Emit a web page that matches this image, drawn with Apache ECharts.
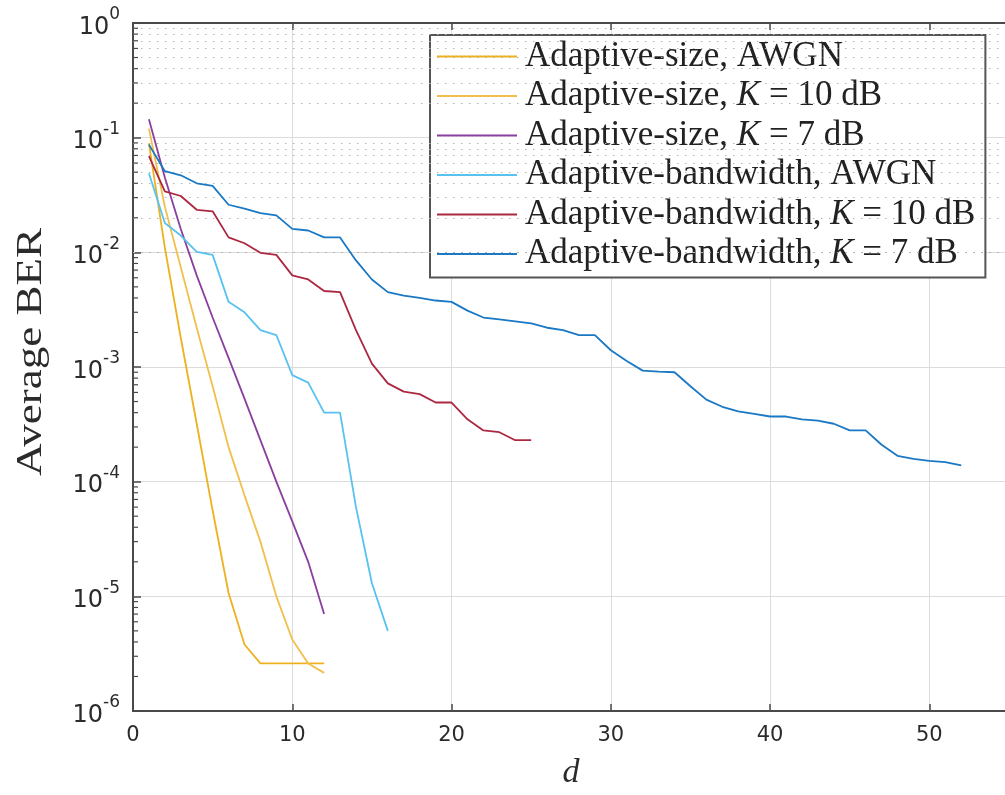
<!DOCTYPE html>
<html>
<head>
<meta charset="utf-8">
<script src="https://cdn.jsdelivr.net/npm/echarts@6/dist/echarts.min.js"></script>
<style>
  html, body { margin: 0; padding: 0; background: #ffffff; overflow: hidden; }
  #chart { width: 1020px; height: 795px; }
</style>
</head>
<body>
<div id="chart"></div>
<script>
// Average BER versus d, one array per curve (index 0 is d = 1)
const seriesNames = [
  'Adaptive-size, AWGN',
  'Adaptive-size, K = 10 dB',
  'Adaptive-size, K = 7 dB',
  'Adaptive-bandwidth, AWGN',
  'Adaptive-bandwidth, K = 10 dB',
  'Adaptive-bandwidth, K = 7 dB'
];
const seriesColors = ['#EDB120', '#F1C04C', '#8A3E9E', '#58C2F0', '#AC2840', '#1A78C4'];

const berSizeAwgn = [0.089, 0.011, 0.0018, 3.2e-4, 5.6e-5, 1.07e-5, 3.8e-6, 2.6e-6, 2.6e-6, 2.6e-6, 2.6e-6, 2.6e-6];
const berSizeK10 = [0.12, 0.025, 0.0074, 0.0022, 6.8e-4, 2.0e-4, 7.6e-5, 3.0e-5, 1.0e-5, 4.2e-6, 2.6e-6, 2.15e-6];
const berSizeK7 = [0.145, 0.045, 0.016, 0.0063, 0.0027, 0.0012, 5.3e-4, 2.3e-4, 1.0e-4, 4.5e-5, 2.0e-5, 7.0e-6];
const berBwAwgn = [0.049, 0.018, 0.014, 0.0101, 0.0095, 0.0037, 0.0030, 0.0021, 0.0019, 8.5e-4,
  7.3e-4, 4.0e-4, 4.0e-4, 6.0e-5, 1.3e-5, 5.0e-6];
const berBwK10 = [0.069, 0.034, 0.031, 0.0235, 0.0228, 0.0135, 0.012, 0.0099, 0.0095, 0.0063,
  0.0058, 0.0046, 0.0045, 0.0021, 0.00107, 7.2e-4, 6.1e-4, 5.8e-4, 4.9e-4, 4.9e-4,
  3.5e-4, 2.8e-4, 2.7e-4, 2.3e-4, 2.3e-4];
const berBwK7 = [0.087, 0.051, 0.047, 0.040, 0.038, 0.026, 0.024, 0.022, 0.021, 0.016,
  0.0155, 0.0135, 0.0135, 0.0085, 0.0058, 0.0045, 0.0042, 0.0040, 0.0038, 0.0037,
  0.0031, 0.0027, 0.0026, 0.0025, 0.0024, 0.0022, 0.0021, 0.0019, 0.0019, 0.0014,
  0.00113, 9.3e-4, 9.1e-4, 9.0e-4, 6.8e-4, 5.2e-4, 4.5e-4, 4.1e-4, 3.9e-4, 3.7e-4,
  3.7e-4, 3.5e-4, 3.4e-4, 3.2e-4, 2.8e-4, 2.8e-4, 2.1e-4, 1.68e-4, 1.58e-4, 1.52e-4,
  1.48e-4, 1.39e-4];

const curves = [berSizeAwgn, berSizeK10, berSizeK7, berBwAwgn, berBwK10, berBwK7];

// axis ranges and decade exponents for the log axis
const xMin = 0, xMax = 55, xStep = 10;
const yMinExp = -6, yMaxExp = 0;

// minor log positions 2..9 within every decade
const minorLevels = [];
for (let e = yMinExp; e < yMaxExp; e++) {
  for (let m = 2; m <= 9; m++) minorLevels.push(m * Math.pow(10, e));
}

const axisColor = '#4a4a4a';
const textColor = '#2b2b2b';
const serif = '"Liberation Serif", "DejaVu Serif", serif';
const sans = '"DejaVu Sans", sans-serif';

const chart = echarts.init(document.getElementById('chart'), null, { renderer: 'canvas' });

const lineSeries = curves.map((vals, k) => ({
  name: seriesNames[k],
  type: 'line',
  data: vals.map((v, i) => [i + 1, v]),
  showSymbol: false,
  symbol: 'none',
  smooth: false,
  z: 5,
  color: seriesColors[k],
  lineStyle: { width: 1.8, color: seriesColors[k] },
  emphasis: { disabled: true },
  animation: false
}));

const option = {
  backgroundColor: '#ffffff',
  animation: false,
  grid: {
    left: 133, top: 23, width: 876, height: 688,
    show: true, borderColor: axisColor, borderWidth: 2, backgroundColor: '#ffffff'
  },
  graphic: [{
    // y-axis title, stretched along its length
    type: 'text',
    x: 32, y: 352,
    rotation: Math.PI / 2,
    scaleX: 1.25, scaleY: 1,
    silent: true,
    style: {
      text: 'Average BER',
      fontFamily: serif, fontSize: 36, fill: textColor,
      align: 'center', verticalAlign: 'middle'
    }
  }],
  xAxis: [{
    type: 'value', min: xMin, max: xMax, interval: xStep,
    position: 'bottom',
    axisLine: { show: true, lineStyle: { color: axisColor, width: 2 } },
    axisTick: { show: true, inside: true, length: 7, lineStyle: { color: axisColor, width: 1.5 } },
    axisLabel: { show: true, margin: 14, color: textColor, fontFamily: sans, fontSize: 21, showMaxLabel: false },
    splitLine: { show: true, lineStyle: { color: '#dcdcdc', width: 1 } },
    name: 'd', nameLocation: 'middle', nameGap: 45,
    nameTextStyle: { fontFamily: serif, fontStyle: 'italic', fontSize: 34, color: textColor }
  }, {
    type: 'value', min: xMin, max: xMax, interval: xStep,
    position: 'top',
    axisLine: { show: true, lineStyle: { color: axisColor, width: 2 } },
    axisTick: { show: true, inside: true, length: 7, lineStyle: { color: axisColor, width: 1.5 } },
    axisLabel: { show: false },
    splitLine: { show: false }
  }],
  yAxis: {
    type: 'log', logBase: 10, min: Math.pow(10, yMinExp), max: Math.pow(10, yMaxExp), splitNumber: 6,
    axisLine: { show: true, lineStyle: { color: axisColor, width: 2 } },
    axisTick: { show: true, inside: true, length: 8, lineStyle: { color: axisColor, width: 1.5 } },
    axisLabel: {
      margin: 13, color: textColor,
      formatter: (v) => '{b|10}{s|' + Math.round(Math.log10(v)) + '}',
      rich: {
        b: { fontFamily: sans, fontSize: 24, lineHeight: 33, verticalAlign: 'bottom', color: textColor },
        s: { fontFamily: sans, fontSize: 17, lineHeight: 14, verticalAlign: 'top', color: textColor }
      }
    },
    splitLine: { show: true, lineStyle: { color: '#dcdcdc', width: 1 } }
  },
  legend: {
    orient: 'vertical',
    left: 430, top: 35,
    padding: [4, 10, 6, 7],
    itemGap: 4.5,
    itemWidth: 80, itemHeight: 2,
    icon: 'rect',
    backgroundColor: '#ffffff',
    borderColor: '#555555', borderWidth: 2,
    data: seriesNames,
    selectedMode: false,
    formatter: (name) => name.replace('K =', '{i|K} ='),
    textStyle: {
      fontFamily: serif, fontSize: 35, lineHeight: 35, color: '#222222', padding: [0, 0, 0, 3],
      rich: { i: { fontFamily: serif, fontStyle: 'italic', fontSize: 35, lineHeight: 35, color: '#222222' } }
    }
  },
  series: [
    {
      // dotted minor grid lines at 2..9 of every decade
      type: 'line', data: [], silent: true, z: 1,
      markLine: {
        silent: true, symbol: 'none', animation: false,
        label: { show: false },
        lineStyle: { type: [1.5, 6.5], color: '#b4b4b4', width: 1.2 },
        emphasis: { disabled: true },
        data: minorLevels.map(v => ({ yAxis: v }))
      }
    },
    {
      // short minor tick marks along the left axis
      type: 'custom', silent: true, z: 6,
      data: minorLevels.map(v => [xMin, v]),
      renderItem: (params, api) => {
        const p = api.coord([api.value(0), api.value(1)]);
        return {
          type: 'line',
          shape: { x1: p[0], y1: p[1], x2: p[0] + 5, y2: p[1] },
          style: { stroke: axisColor, lineWidth: 1.2 }
        };
      }
    },
    ...lineSeries
  ]
};

chart.setOption(option);
</script>
</body>
</html>
